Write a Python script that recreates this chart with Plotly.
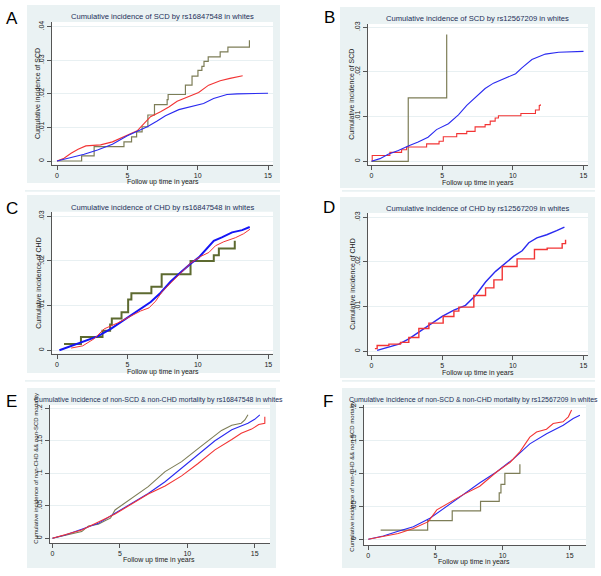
import plotly.graph_objects as go

W, H = 601, 576

# ---------------- data ----------------
# Panel A: SCD by rs16847548
A_blue_t = [0, 1.0, 1.93, 2.88, 3.94, 5.0, 5.7, 6.42, 7.12, 7.71, 8.66, 9.48, 10.42, 11.13, 12.08, 12.8, 15.0]
A_blue_y = [0, 0.001, 0.002, 0.0033, 0.005, 0.0075, 0.0089, 0.0102, 0.0119, 0.0135, 0.0153, 0.0161, 0.0171, 0.0186, 0.0198, 0.02, 0.0202]
A_red_t = [0, 0.5, 1.0, 1.5, 2.05, 3.1, 3.94, 5.0, 5.7, 6.2, 6.65, 7.36, 7.95, 8.54, 9.25, 10.07, 10.78, 11.6, 12.3, 12.9, 13.2]
A_red_y = [0, 0.0008, 0.0023, 0.0035, 0.0045, 0.0048, 0.0057, 0.0077, 0.009, 0.0112, 0.0132, 0.0147, 0.0161, 0.0178, 0.019, 0.0204, 0.0226, 0.0239, 0.0246, 0.025, 0.0254]
A_olive_t = [0, 1.75, 2.64, 4.76, 5.3, 5.66, 6.05, 6.46, 6.93, 7.83, 7.9, 9.13, 9.6, 10.02, 10.3, 10.45, 10.75, 11.6, 12.15, 13.68]
A_olive_y = [0, 0.0015, 0.0043, 0.0057, 0.0072, 0.0087, 0.0102, 0.0137, 0.0168, 0.0183, 0.0198, 0.0226, 0.0253, 0.027, 0.0282, 0.0297, 0.031, 0.0325, 0.0339, 0.036]

# Panel B: SCD by rs12567209
B_blue_t = [0, 0.6, 1.18, 1.9, 2.6, 3.3, 4.0, 4.6, 5.44, 6.15, 6.74, 7.45, 8.04, 8.63, 9.46, 10.2, 10.64, 11.35, 12.3, 13.24, 15.0]
B_blue_y = [0, 0.0006, 0.0016, 0.0024, 0.0034, 0.0043, 0.0054, 0.0071, 0.0084, 0.0104, 0.0125, 0.0146, 0.0163, 0.0175, 0.0187, 0.0196, 0.0209, 0.0228, 0.024, 0.0244, 0.0246]
B_red_t = [0.05, 0.05, 1.3, 2.13, 2.48, 3.9, 4.78, 5.08, 6.03, 6.74, 7.33, 8.04, 8.4, 8.75, 8.98, 10.57, 11.6, 11.87, 11.94]
B_red_y = [0, 0.0013, 0.002, 0.0026, 0.0032, 0.0039, 0.0045, 0.0055, 0.0062, 0.0067, 0.0077, 0.0082, 0.009, 0.0097, 0.0102, 0.0107, 0.0115, 0.0125, 0.0128]
B_olive_t = [0, 2.6, 5.32]
B_olive_y = [0, 0.0142, 0.0284]

# Panel C: CHD by rs16847548
C_blue_t = [0.17, 1.0, 1.93, 2.88, 3.82, 5.0, 5.94, 6.65, 7.36, 8.07, 8.77, 9.48, 10.07, 10.66, 11.13, 11.7, 12.43, 13.14, 13.68]
C_blue_y = [0, 0.001, 0.002, 0.0031, 0.0048, 0.0073, 0.0091, 0.0108, 0.0129, 0.0154, 0.0174, 0.0194, 0.0208, 0.023, 0.0245, 0.0253, 0.0264, 0.0269, 0.0276]
C_red_t = [1.0, 1.83, 2.64, 3.35, 4.29, 5.23, 5.94, 6.53, 7.0, 7.48, 8.07, 8.77, 9.48, 10.19, 10.78, 11.25, 11.84, 12.66, 13.25, 13.7]
C_red_y = [0.0005, 0.001, 0.0026, 0.0048, 0.0061, 0.0076, 0.0088, 0.0095, 0.011, 0.0132, 0.0151, 0.0174, 0.0195, 0.021, 0.0219, 0.0234, 0.0243, 0.0252, 0.0261, 0.0271]
C_olive_t = [0.5, 1.7, 3.23, 3.77, 3.89, 4.58, 5.05, 5.28, 6.7, 7.43, 9.48, 11.13, 11.49, 12.62]
C_olive_y = [0.0014, 0.003, 0.0044, 0.0058, 0.0071, 0.0085, 0.0114, 0.0128, 0.0142, 0.017, 0.02, 0.0213, 0.0228, 0.0245]

# Panel D: CHD by rs12567209
D_blue_t = [0.4, 0.99, 1.94, 2.64, 3.35, 4.18, 5.0, 5.83, 6.65, 7.36, 8.07, 8.78, 9.48, 10.07, 10.66, 11.13, 11.7, 12.4, 13.1, 13.65]
D_blue_y = [0.0002, 0.0007, 0.0016, 0.0028, 0.0043, 0.006, 0.0078, 0.0092, 0.0103, 0.0125, 0.0155, 0.0179, 0.0198, 0.0213, 0.0225, 0.0243, 0.0254, 0.0261, 0.027, 0.0278]
D_red_t = [0.24, 0.4, 1.23, 2.05, 2.64, 3.35, 4.06, 5.07, 5.83, 6.18, 7.24, 8.07, 8.66, 9.25, 10.3, 11.53, 12.43, 13.49, 13.73]
D_red_y = [0.0006, 0.0013, 0.0016, 0.002, 0.0031, 0.0051, 0.0063, 0.0078, 0.009, 0.0099, 0.0125, 0.0142, 0.016, 0.019, 0.0207, 0.0228, 0.0231, 0.0241, 0.025]

# Panel E: non-SCD & non-CHD mortality by rs16847548
E_blue_t = [0, 0.94, 2.17, 3.4, 4.64, 5.88, 7.1, 8.35, 9.58, 10.8, 12.05, 13.3, 14.5, 15.0, 15.38]
E_blue_y = [0, 0.005, 0.0138, 0.023, 0.0385, 0.054, 0.069, 0.087, 0.108, 0.128, 0.15, 0.167, 0.177, 0.183, 0.19]
E_red_t = [0, 2.17, 4.64, 7.1, 8.35, 9.58, 10.8, 12.05, 13.3, 14.0, 14.77, 15.3, 15.75, 15.75]
E_red_y = [0, 0.0128, 0.0374, 0.068, 0.0805, 0.096, 0.115, 0.136, 0.152, 0.1615, 0.168, 0.175, 0.177, 0.187]
E_olive_t = [0, 1.68, 2.17, 2.67, 3.4, 4.0, 4.3, 4.64, 5.88, 7.1, 8.35, 9.58, 10.8, 12.05, 12.54, 13.3, 14.0, 14.27, 14.5]
E_olive_y = [0, 0.0087, 0.0103, 0.019, 0.0215, 0.028, 0.031, 0.0436, 0.0615, 0.0795, 0.1026, 0.118, 0.138, 0.159, 0.166, 0.174, 0.177, 0.182, 0.19]

# Panel F: non-SCD & non-CHD mortality by rs12567209
F_blue_t = [0, 1.12, 2.1, 3.35, 4.59, 5.83, 7.07, 8.31, 9.55, 10.79, 12.03, 13.28, 14.52, 15.26, 15.76]
F_blue_y = [0, 0.0051, 0.0113, 0.019, 0.0318, 0.0497, 0.0677, 0.0856, 0.102, 0.1215, 0.1446, 0.16, 0.1728, 0.183, 0.188]
F_red_t = [0, 1.12, 2.23, 3.35, 4.47, 5.1, 6.08, 7.07, 8.3, 9.55, 10.55, 11.3, 12.03, 12.53, 13.27, 13.77, 14.5, 14.9, 15.14]
F_red_y = [0, 0.0046, 0.0087, 0.0164, 0.0267, 0.0446, 0.0559, 0.0677, 0.0805, 0.102, 0.1164, 0.1328, 0.1549, 0.1626, 0.1667, 0.1754, 0.178, 0.1856, 0.1959]
F_olive_t = [0.92, 4.42, 6.25, 8.36, 9.75, 9.88, 10.17, 11.29]
F_olive_y = [0.0138, 0.0282, 0.0431, 0.0574, 0.0703, 0.0831, 0.1, 0.1138]

# tick labels
X_TICKS = [0, 5, 10, 15]
X_TICK_TEXT = ["0", "5", "10", "15"]
Y_TICKS_04 = [0, 0.01, 0.02, 0.03, 0.04]
Y_TEXT_04 = ["0", ".01", ".02", ".03", ".04"]
Y_TICKS_03 = [0, 0.01, 0.02, 0.03]
Y_TEXT_03 = ["0", ".01", ".02", ".03"]
Y_TICKS_2 = [0, 0.05, 0.1, 0.15, 0.2]
Y_TEXT_2 = ["0", ".05", ".1", ".15", ".2"]

TITLES = [
    "Cumulative incidence of SCD by rs16847548 in whites",
    "Cumulative incidence of SCD by rs12567209 in whites",
    "Cumulative incidence of CHD by rs16847548 in whites",
    "Cumulative incidence of CHD by rs12567209 in whites",
    "Cumulative incidence of non-SCD & non-CHD mortality by rs16847548 in whites",
    "Cumulative incidence of non-SCD & non-CHD mortality by rs12567209 in whites",
]
YTITLES = [
    "Cumulative incidence of SCD",
    "Cumulative incidence of SCD",
    "Cumulative incidence of CHD",
    "Cumulative incidence of CHD",
    "Cumulative incidence of non-CHD && non-SCD mortality",
    "Cumulative incidence of non-CHD && non-SCD mortality",
]
XTITLE = "Follow up time in years"
LETTERS = ["A", "B", "C", "D", "E", "F"]

# ---------------- styling / layout ----------------
BLUE = "#2a2af0"
RED = "#f23434"
OLIVE = "#7d7d57"
OLIVE_DK = "#5d6a30"
BOXC = "rgb(234,242,243)"
TITLEC = "#1c2f58"
TXTC = "#222222"
FONT = "Liberation Sans, Arial, sans-serif"

panels = [
    dict(box=(27, 5, 280, 183), plot=(52, 22, 273, 164.5), xcal=(57, 268), ycal=(161, 26.7, 0.04),
         yt=(Y_TICKS_04, Y_TEXT_04), title=(162.5, 17, 7.6), ytit=(38, 94, 7), xtit=(162.8, 181.5), letter=(12, 18),
         traces=[(A_olive_t, A_olive_y, OLIVE, 1.2, "hv"), (A_red_t, A_red_y, RED, 1.1, "linear"),
                 (A_blue_t, A_blue_y, BLUE, 1.1, "linear")]),
    dict(box=(340, 7, 595, 188), plot=(368, 24, 588, 165), xcal=(371.5, 583.5), ycal=(161.3, 27.3, 0.03),
         yt=(Y_TICKS_03, Y_TEXT_03), title=(477, 18, 7.6), ytit=(351.7, 94, 7), xtit=(477.5, 182.5), letter=(329, 17.5),
         traces=[(B_olive_t, B_olive_y, OLIVE, 1.2, "hv"), (B_red_t, B_red_y, RED, 1.1, "hv"),
                 (B_blue_t, B_blue_y, BLUE, 1.1, "linear")]),
    dict(box=(27, 195, 280, 373), plot=(52, 211.7, 273, 353.5), xcal=(57, 268.3), ycal=(350.3, 216.3, 0.03),
         yt=(Y_TICKS_03, Y_TEXT_03), title=(162.5, 207, 7.6), ytit=(37.7, 283, 7), xtit=(162.8, 371.5), letter=(11.5, 208),
         traces=[(C_olive_t, C_olive_y, OLIVE_DK, 2.0, "hv"), (C_blue_t, C_blue_y, "#1515f5", 2.0, "linear"),
                 (C_red_t, C_red_y, RED, 1.0, "linear")]),
    dict(box=(340, 197, 595, 378), plot=(368, 213, 588, 355), xcal=(371.5, 583.5), ycal=(351.3, 217.3, 0.03),
         yt=(Y_TICKS_03, Y_TEXT_03), title=(477, 208, 7.6), ytit=(351.7, 284, 7), xtit=(477.5, 372.5), letter=(329, 207.5),
         traces=[(D_blue_t, D_blue_y, BLUE, 1.4, "linear"), (D_red_t, D_red_y, RED, 1.4, "hv")]),
    dict(box=(27, 388, 276, 568), plot=(50, 405, 270, 543), xcal=(52.5, 254.7), ycal=(538.3, 408.3, 0.2),
         yt=(Y_TICKS_2, Y_TEXT_2), title=(158.5, 399.5, 7), ytit=(35.7, 468, 6), xtit=(159, 560.2), letter=(11.5, 401),
         traces=[(E_olive_t, E_olive_y, OLIVE, 1.1, "linear"), (E_blue_t, E_blue_y, BLUE, 1.1, "linear"),
                 (E_red_t, E_red_y, RED, 1.1, "linear")]),
    dict(box=(342, 388, 595, 568), plot=(364, 405, 586, 545), xcal=(368.3, 569.7), ycal=(539.3, 407.3, 0.2),
         yt=(Y_TICKS_2, Y_TEXT_2), title=(473.5, 399.5, 7), ytit=(351.7, 476, 6), xtit=(474, 561.5), letter=(328, 401),
         traces=[(F_olive_t, F_olive_y, OLIVE, 1.2, "hv"), (F_blue_t, F_blue_y, BLUE, 1.1, "linear"),
                 (F_red_t, F_red_y, RED, 1.1, "linear")]),
]


def lin_range(p0, p1, a_px, a_val, b_px, b_val):
    s = (b_val - a_val) / (b_px - a_px)
    return [a_val + (p0 - a_px) * s, a_val + (p1 - a_px) * s]


fig = go.Figure()
shapes = []
annotations = []
layout_axes = {}

# separator bands between rows
for yb in (190.0, 380.0):
    for (bx0, bx1) in ((25, 280), (342, 595)):
        shapes.append(dict(type="rect", xref="paper", yref="paper", layer="below",
                           x0=bx0 / W, x1=bx1 / W, y0=1 - (yb + 1.8) / H, y1=1 - yb / H,
                           line=dict(width=0), fillcolor=BOXC))

for i, p in enumerate(panels):
    n = "" if i == 0 else str(i + 1)
    bx0, by0, bx1, by1 = p["box"]
    px0, py0, px1, py1 = p["plot"]
    shapes.append(dict(type="rect", xref="paper", yref="paper", layer="below",
                       x0=bx0 / W, x1=bx1 / W, y0=1 - by1 / H, y1=1 - by0 / H,
                       line=dict(width=0), fillcolor=BOXC))
    shapes.append(dict(type="rect", xref="paper", yref="paper", layer="below",
                       x0=px0 / W, x1=px1 / W, y0=1 - py1 / H, y1=1 - py0 / H,
                       line=dict(width=0), fillcolor="white"))
    xr = lin_range(px0, px1, p["xcal"][0], 0, p["xcal"][1], 15)
    yc0, yc1, ytop = p["ycal"]
    yr = lin_range(py1, py0, yc0, 0, yc1, ytop)
    tick_font = dict(size=7, color=TXTC, family=FONT)
    layout_axes["xaxis" + n] = dict(
        domain=[px0 / W, px1 / W], range=xr, anchor="y" + n,
        tickmode="array", tickvals=X_TICKS, ticktext=X_TICK_TEXT,
        ticks="outside", ticklen=4, tickwidth=1, tickcolor="#555",
        showline=True, linecolor="#555", linewidth=1,
        showgrid=False, zeroline=False, tickfont=tick_font, fixedrange=True)
    layout_axes["yaxis" + n] = dict(
        domain=[1 - py1 / H, 1 - py0 / H], range=yr, anchor="x" + n,
        tickmode="array", tickvals=p["yt"][0], ticktext=p["yt"][1],
        ticks="outside", ticklen=4, tickwidth=1, tickcolor="#555", tickangle=-90,
        showline=True, linecolor="#555", linewidth=1,
        showgrid=True, gridcolor="rgb(232,240,242)", gridwidth=1,
        zeroline=False, tickfont=tick_font, fixedrange=True)
    for (tx, ty, col, wd, shp) in p["traces"]:
        fig.add_trace(go.Scatter(x=tx, y=ty, mode="lines", xaxis="x" + n, yaxis="y" + n,
                                 line=dict(color=col, width=wd, shape=shp),
                                 showlegend=False, hoverinfo="skip"))
    tx_, ty_, tfs = p["title"]
    annotations.append(dict(text=TITLES[i], x=tx_ / W, y=1 - ty_ / H, xref="paper", yref="paper",
                            showarrow=False, xanchor="center", yanchor="middle",
                            font=dict(size=tfs, color=TITLEC, family=FONT)))
    yx, yy, yfs = p["ytit"]
    annotations.append(dict(text=YTITLES[i], x=yx / W, y=1 - yy / H, xref="paper", yref="paper",
                            showarrow=False, xanchor="center", yanchor="middle", textangle=-90,
                            font=dict(size=yfs, color=TXTC, family=FONT)))
    xx, xy = p["xtit"]
    annotations.append(dict(text=XTITLE, x=xx / W, y=1 - xy / H, xref="paper", yref="paper",
                            showarrow=False, xanchor="center", yanchor="middle",
                            font=dict(size=7, color=TXTC, family=FONT)))
    lx, ly = p["letter"]
    annotations.append(dict(text=LETTERS[i], x=lx / W, y=1 - ly / H, xref="paper", yref="paper",
                            showarrow=False, xanchor="center", yanchor="middle",
                            font=dict(size=17, color="black", family=FONT)))

fig.update_layout(
    template="none",
    width=W, height=H,
    margin=dict(l=0, r=0, t=0, b=0),
    paper_bgcolor="white", plot_bgcolor="rgba(0,0,0,0)",
    font=dict(family=FONT, size=7, color=TXTC),
    showlegend=False,
    shapes=shapes,
    annotations=annotations,
    **layout_axes,
)

fig.write_html("out.html", config={"displayModeBar": False, "staticPlot": True},
               post_script="document.body.style.margin='0';document.body.style.overflow='hidden';")
